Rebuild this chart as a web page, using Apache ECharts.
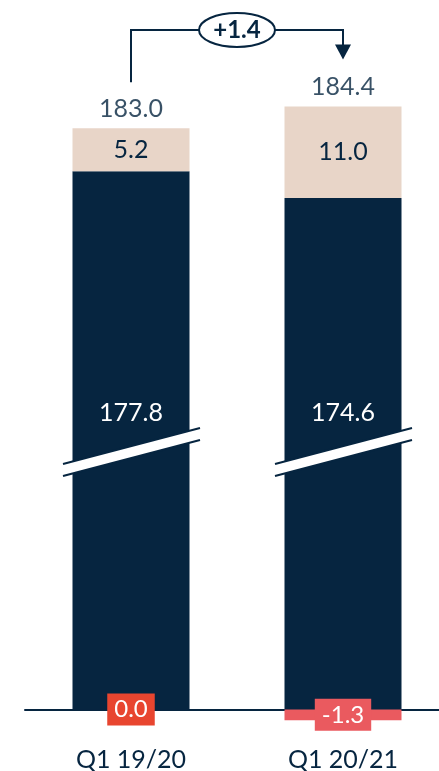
<!DOCTYPE html>
<html><head><meta charset="utf-8">
<script src="https://cdn.jsdelivr.net/npm/echarts@6/dist/echarts.min.js"></script>
<style>html,body{margin:0;padding:0;background:#fff}#c{width:439px;height:771px}</style>
</head><body><div id="c"></div>
<script>
const categories = ['Q1 19/20', 'Q1 20/21'];
const baseValues = [177.8, 174.6];
const addValues = [5.2, 11.0];
const adjValues = [0.0, -1.3];
const totals = [183.0, 184.4];
const deltaLabel = '+1.4';
const axisBreak = { start: 31, end: 144 };

const NAVY = '#062540';
const BEIGE = '#e8d5c8';
const REDS = ['#e8452f', '#ea5a5f'];
const FONT = 'Lato, "Noto Sans", sans-serif';
const fmt1 = v => (typeof v === 'number' ? v : v.value).toFixed(1);

const chart = echarts.init(document.getElementById('c'), null, { renderer: 'canvas' });
const option = {
  animation: false,
  grid: { left: 25, right: -10, top: 70, bottom: 45, outerBoundsMode: 'none', containLabel: false },
  xAxis: {
    type: 'category', data: categories,
    axisLine: { onZero: true, lineStyle: { color: NAVY, width: 2 } },
    axisTick: { show: false },
    axisLabel: { color: NAVY, fontSize: 25, fontFamily: FONT, margin: 21 }
  },
  yAxis: {
    type: 'value', min: -2, max: 190, show: false, splitLine: { show: false },
    breaks: [{ start: axisBreak.start, end: axisBreak.end, gap: 0 }],
    breakArea: { show: false }
  },
  series: [
    {
      type: 'bar', stack: 's', barWidth: 117, barGap: '-100%', data: baseValues,
      itemStyle: { color: NAVY },
      label: { show: true, position: 'insideBottom', distance: 284, color: '#fff', fontSize: 25, fontFamily: FONT, formatter: p => fmt1(p.value) }
    },
    {
      type: 'bar', stack: 's', barWidth: 117, barGap: '-100%', data: addValues,
      itemStyle: { color: BEIGE },
      label: { show: true, position: 'inside', color: NAVY, fontSize: 25, fontFamily: FONT, formatter: p => fmt1(p.value) }
    },
    {
      type: 'bar', barWidth: 117, barGap: '-100%', z: 5,
      data: adjValues.map((v, i) => ({ value: v, itemStyle: { color: REDS[i] }, label: { backgroundColor: REDS[i] } })),
      label: { show: true, position: 'inside', color: '#fff', fontSize: 24, fontFamily: FONT, padding: [5, 7, 3, 7], formatter: p => fmt1(p.value) }
    },
    {
      type: 'scatter', symbolSize: 0,
      data: categories.map((c, i) => [i, baseValues[i] + addValues[i]]),
      label: { show: true, position: 'top', distance: 7, color: NAVY, fontSize: 25, fontFamily: FONT, formatter: p => totals[p.dataIndex].toFixed(1) }
    }
  ]
};
chart.setOption(option);

// decorations: axis break marks and delta bracket
const cx = categories.map((c, i) => chart.convertToPixel({ xAxisIndex: 0 }, i));
const yb = (chart.convertToPixel({ yAxisIndex: 0 }, axisBreak.start) + chart.convertToPixel({ yAxisIndex: 0 }, axisBreak.end)) / 2;
const totPx = categories.map((c, i) => chart.convertToPixel({ yAxisIndex: 0 }, baseValues[i] + addValues[i]));
const g = [];
cx.forEach(x => {
  const l = x - 68, r = x + 69;
  g.push({ type: 'polygon', z: 100, shape: { points: [[l, yb + 12], [r, yb - 24], [r, yb - 12], [l, yb + 24]] }, style: { fill: '#fff' } });
  g.push({ type: 'line', z: 101, shape: { x1: l, y1: yb + 12, x2: r, y2: yb - 24 }, style: { stroke: NAVY, lineWidth: 2 } });
  g.push({ type: 'line', z: 101, shape: { x1: l, y1: yb + 24, x2: r, y2: yb - 12 }, style: { stroke: NAVY, lineWidth: 2 } });
});
const by = 30;
const tip = totPx[1] - 47;
g.push({ type: 'polyline', z: 100, shape: { points: [[cx[0], totPx[0] - 46], [cx[0], by], [cx[1], by], [cx[1], tip - 14]] }, style: { stroke: NAVY, lineWidth: 2, fill: null } });
g.push({ type: 'polygon', z: 100, shape: { points: [[cx[1] - 8, tip - 15], [cx[1] + 8, tip - 15], [cx[1], tip]] }, style: { fill: NAVY } });
const mx = (cx[0] + cx[1]) / 2;
g.push({ type: 'ellipse', z: 102, shape: { cx: mx, cy: by, rx: 38, ry: 17 }, style: { fill: '#fff', stroke: NAVY, lineWidth: 2 } });
g.push({ type: 'text', z: 103, x: mx, y: by, style: { text: deltaLabel, fill: NAVY, font: 'bold 24px ' + FONT, align: 'center', verticalAlign: 'middle' } });
chart.setOption({ graphic: g });
</script></body></html>
